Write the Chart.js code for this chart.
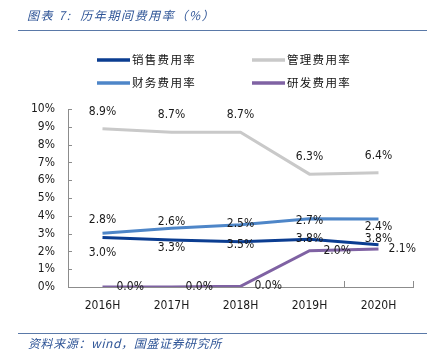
<!DOCTYPE html>
<html>
<head>
<meta charset="utf-8">
<script src="https://cdn.jsdelivr.net/npm/chart.js@4/dist/chart.umd.min.js"></script>
<style>
  html, body { margin: 0; padding: 0; background: #fff; }
  #wrap { position: relative; width: 434px; height: 356px; overflow: hidden; }
  canvas { position: absolute; left: 0; top: 0; }
  .cap { position: absolute; font-family: "Noto Sans CJK SC", sans-serif; font-style: italic; color: #2F5597; font-size: 12px; line-height: 14px; white-space: nowrap; }
  .rule { position: absolute; left: 18px; width: 409px; height: 0; border-top: 1.5px solid #5A79A8; }
</style>
</head>
<body>
<div id="wrap">
  <canvas id="c" width="434" height="356"></canvas>
  <div class="cap" style="left:27px; top:8px; letter-spacing:1.6px;">图表 7:&nbsp; 历年期间费用率（%）</div>
  <div class="rule" style="top:30px;"></div>
  <div class="rule" style="top:333px;"></div>
  <div class="cap" style="left:28px; top:336px; letter-spacing:0.6px;">资料来源：wind，国盛证券研究所</div>
</div>
<script>
const categories = ['2016H', '2017H', '2018H', '2019H', '2020H'];
const seriesNames = ['销售费用率', '管理费用率', '财务费用率', '研发费用率'];
const salesRate = [2.78, 2.64, 2.54, 2.68, 2.38];
const adminRate = [8.89, 8.70, 8.70, 6.34, 6.42];
const financeRate = [3.02, 3.30, 3.50, 3.84, 3.82];
const rdRate = [0.00, 0.00, 0.04, 2.04, 2.14];
const yTickValues = [0, 1, 2, 3, 4, 5, 6, 7, 8, 9, 10];

const colors = ['#0B3D91', '#C9C9C9', '#4E86C8', '#7F62A3'];
const numFont = '"DejaVu Sans Condensed", "DejaVu Sans", sans-serif';
const cjkFont = '"Noto Sans CJK SC", sans-serif';
const numSize = 12;

const labelPlace = [
  { dy: -18, align: 'center' },
  { dy: -17, align: 'center' },
  { dy: 20, align: 'center' },
  { dy: 0, align: 'left', dx: 14 }
];

const customPlugin = {
  id: 'custom',
  afterDraw(chart) {
    const ctx = chart.ctx;
    const area = chart.chartArea;
    const xs = chart.scales.x, ys = chart.scales.y;
    ctx.save();
    ctx.strokeStyle = '#8C8C8C';
    ctx.lineWidth = 1;
    ctx.beginPath();
    yTickValues.forEach(v => {
      const y = Math.round(ys.getPixelForValue(v)) + 0.5;
      ctx.moveTo(area.left, y); ctx.lineTo(area.left + 4, y);
    });
    for (let i = 0; i <= categories.length; i++) {
      const x = Math.round(xs.getPixelForValue(i - 0.5)) + 0.5;
      ctx.moveTo(x, area.bottom); ctx.lineTo(x, area.bottom - 6);
    }
    ctx.stroke();

    ctx.font = numSize + 'px ' + numFont;
    ctx.fillStyle = '#1a1a1a';
    ctx.textBaseline = 'middle';
    chart.data.datasets.forEach((ds, di) => {
      const meta = chart.getDatasetMeta(di);
      const p = labelPlace[di];
      meta.data.forEach((pt, i) => {
        const txt = ds.data[i].toFixed(1) + '%';
        let x = pt.x + (p.dx || 0);
        const y = pt.y + p.dy;
        ctx.textAlign = p.align;
        if (p.align === 'left') {
          const w = ctx.measureText(txt).width;
          if (x + w > 416) x = 416 - w;
        }
        ctx.fillText(txt, x, y);
      });
    });

    const pos = [[97, 60], [252, 60], [97, 83], [252, 83]];
    ctx.font = '11.5px ' + cjkFont;
    ctx.textAlign = 'left';
    chart.data.datasets.forEach((ds, di) => {
      const [lx, ly] = pos[di];
      ctx.strokeStyle = ds.borderColor;
      ctx.lineWidth = 3.5;
      ctx.beginPath();
      ctx.moveTo(lx, ly); ctx.lineTo(lx + 33, ly);
      ctx.stroke();
      ctx.fillStyle = '#111';
      Array.from(ds.label).forEach((ch, k) => ctx.fillText(ch, lx + 35 + k * 12.8, ly));
    });
    ctx.restore();
  }
};

new Chart(document.getElementById('c'), {
  type: 'line',
  data: {
    labels: categories,
    datasets: [
      { label: seriesNames[0], data: salesRate, borderColor: colors[0] },
      { label: seriesNames[1], data: adminRate, borderColor: colors[1] },
      { label: seriesNames[2], data: financeRate, borderColor: colors[2] },
      { label: seriesNames[3], data: rdRate, borderColor: colors[3] }
    ].map(d => Object.assign(d, { borderWidth: 3, pointRadius: 0, tension: 0, fill: false, borderCapStyle: 'butt', borderJoinStyle: 'miter' }))
  },
  options: {
    responsive: false,
    animation: false,
    layout: { padding: { top: 109, right: 21, left: 0, bottom: 0 } },
    plugins: { legend: { display: false }, tooltip: { enabled: false }, title: { display: false } },
    scales: {
      x: {
        offset: true,
        grid: { display: true, drawOnChartArea: false, drawTicks: false, offset: true },
        border: { display: true, color: '#8C8C8C', width: 1 },
        ticks: { padding: 12, color: '#1a1a1a', font: { family: numFont, size: numSize }, maxRotation: 0 },
        afterFit(s) { s.height = 356 - 287; }
      },
      y: {
        min: 0, max: 10,
        afterBuildTicks(s) { s.ticks = yTickValues.map(v => ({ value: v })); },
        grid: { display: true, drawOnChartArea: false, drawTicks: false },
        border: { display: true, color: '#8C8C8C', width: 1 },
        ticks: { padding: 13, color: '#1a1a1a', font: { family: numFont, size: numSize }, callback: v => v + '%' },
        afterFit(s) { s.width = 68; }
      }
    }
  },
  plugins: [customPlugin]
});
</script>
</body>
</html>
